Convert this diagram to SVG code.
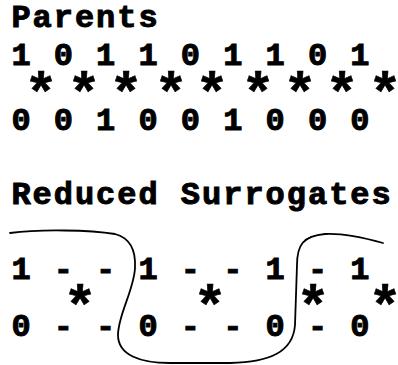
<svg xmlns="http://www.w3.org/2000/svg" width="398" height="365" viewBox="0 0 398 365">
  <style>
    text { font-family: "Liberation Mono", "Courier New", monospace; font-weight: bold; font-size: 32px; letter-spacing: 1.98px; fill: #000; stroke: #000; stroke-width: 1px; white-space: pre; }
    .star { font-size: 56px; letter-spacing: 0; text-anchor: middle; stroke-width: 0.6px; }
    .curve { fill: none; stroke: #000; stroke-width: 1.8; stroke-linecap: round; }
  </style>
  <rect width="398" height="365" fill="#fff"/>

  <g id="parents">
    <text x="11.4" y="27">Parents</text>
    <text x="11.4" y="64.5">1 0 1 1 0 1 1 0 1</text>
    <g id="parent-stars">
      <text class="star" x="41" y="110.5">*</text>
      <text class="star" x="84" y="110.5">*</text>
      <text class="star" x="126" y="110.5">*</text>
      <text class="star" x="171" y="110.5">*</text>
      <text class="star" x="212" y="110.5">*</text>
      <text class="star" x="258" y="110.5">*</text>
      <text class="star" x="300" y="110.5">*</text>
      <text class="star" x="342" y="110.5">*</text>
      <text class="star" x="385" y="110.5">*</text>
    </g>
    <text x="11.4" y="129.5">0 0 1 0 0 1 0 0 0</text>
  </g>

  <g id="surrogates">
    <text x="11.4" y="203.5">Reduced Surrogates</text>
    <text x="11.4" y="278.5">1 - - 1 - - 1 - 1</text>
    <g id="surrogate-stars">
      <text class="star" x="80" y="323.5">*</text>
      <text class="star" x="210" y="323.5">*</text>
      <text class="star" x="313" y="323.5">*</text>
      <text class="star" x="385" y="323.5">*</text>
    </g>
    <text x="11.4" y="335.5">0 - - 0 - - 0 - 0</text>
  </g>

  <g id="connectors">
    <path class="curve" d="M10,233 C40,229 90,230 115,234 C130,238 136,250 135,268 C134,290 118,315 118,335 C118,355 140,363 170,363 L230,363 C270,362 293,352 295,325 L297,265 C297,245 303,236 325,234 C345,233 365,238 383,243"/>
  </g>
</svg>
